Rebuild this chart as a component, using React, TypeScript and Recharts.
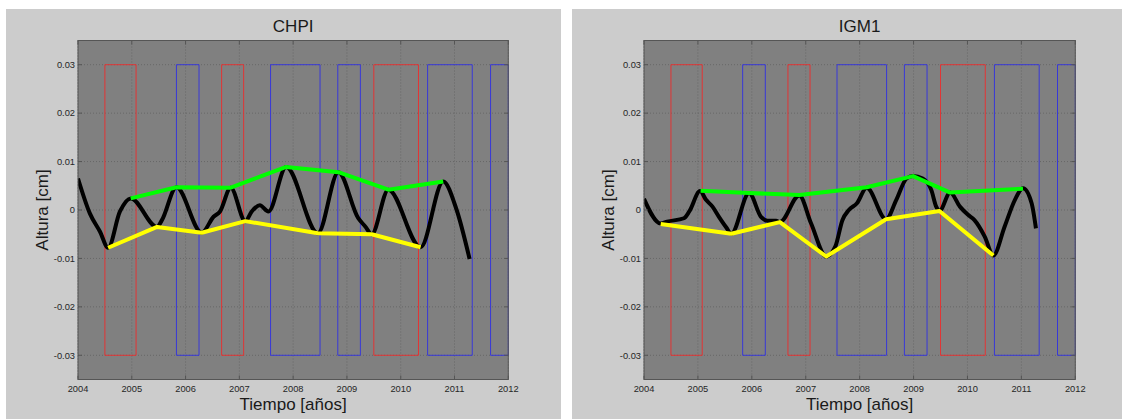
import React from 'react';
import { ComposedChart, Line, XAxis, YAxis, CartesianGrid, ReferenceArea } from 'recharts';

// Axis ticks
const YEAR_TICKS = [2004, 2005, 2006, 2007, 2008, 2009, 2010, 2011, 2012];
const ALT_TICKS = [-0.03, -0.02, -0.01, 0, 0.01, 0.02, 0.03];
const ALT_LABELS = ['-0.03', '-0.02', '-0.01', '0', '0.01', '0.02', '0.03'];
const YEAR_RANGE = [2004, 2012];
const ALT_RANGE = [-0.035, 0.035];

// ENSO episodes (start, end) in decimal years
const NINO_START = [2004.5, 2006.67, 2009.5];
const NINO_END = [2005.08, 2007.08, 2010.33];
const NINA_START = [2005.83, 2007.58, 2008.83, 2010.5, 2011.67];
const NINA_END = [2006.25, 2008.5, 2009.25, 2011.33, 2012];
const EPISODE_BAND = [-0.03, 0.03];

// CHPI: height series and its upper / lower envelopes
const CHPI_T = [2004.0, 2004.22, 2004.41, 2004.56, 2004.78, 2004.98, 2005.47, 2005.56, 2005.83, 2006.3, 2006.52, 2006.64, 2006.84, 2007.11, 2007.23, 2007.38, 2007.54, 2007.87, 2008.46, 2008.84, 2009.21, 2009.34, 2009.46, 2009.77, 2010.37, 2010.79, 2011.04, 2011.28];
const CHPI_H = [0.0065, -0.0007, -0.0045, -0.0078, -0.0003, 0.0024, -0.0035, -0.0021, 0.0047, -0.0047, -0.0014, -0.0003, 0.0046, -0.0023, -0.0003, 0.001, -0.0003, 0.0089, -0.0048, 0.0078, -0.0017, -0.0034, -0.005, 0.0042, -0.0077, 0.0059, 0.0, -0.0101];
const CHPI_MAX_T = [2004.98, 2005.83, 2006.84, 2007.87, 2008.84, 2009.77, 2010.79];
const CHPI_MAX = [0.0024, 0.0047, 0.0046, 0.0089, 0.0078, 0.0042, 0.0059];
const CHPI_MIN_T = [2004.56, 2005.47, 2006.3, 2007.11, 2008.46, 2009.46, 2010.37];
const CHPI_MIN = [-0.0078, -0.0035, -0.0047, -0.0023, -0.0048, -0.005, -0.0077];

// IGM1: height series and its upper / lower envelopes
const IGM1_T = [2004.0, 2004.31, 2004.43, 2004.74, 2004.84, 2005.04, 2005.15, 2005.27, 2005.39, 2005.52, 2005.62, 2005.95, 2006.17, 2006.29, 2006.45, 2006.52, 2006.88, 2007.1, 2007.38, 2007.55, 2007.68, 2007.8, 2007.95, 2008.13, 2008.49, 2008.68, 2008.87, 2008.99, 2009.17, 2009.33, 2009.42, 2009.48, 2009.68, 2009.86, 2010.01, 2010.13, 2010.32, 2010.48, 2010.69, 2010.88, 2011.03, 2011.19, 2011.27];
const IGM1_H = [0.0023, -0.0028, -0.0024, -0.0017, -0.0003, 0.0039, 0.0021, 0.0007, -0.0014, -0.0035, -0.0049, 0.0035, -0.0014, -0.0022, -0.0022, -0.0025, 0.003, -0.0028, -0.0096, -0.0075, -0.0021, 0.0, 0.0014, 0.0046, -0.0019, 0.0021, 0.0065, 0.007, 0.0065, 0.0041, 0.0007, -0.0002, 0.0036, 0.0007, -0.001, -0.0021, -0.0055, -0.0094, -0.0034, 0.0021, 0.0045, 0.0014, -0.0038];
const IGM1_MAX_T = [2005.05, 2005.95, 2006.88, 2008.13, 2008.99, 2009.68, 2011.03];
const IGM1_MAX = [0.004, 0.0035, 0.0031, 0.0047, 0.007, 0.0036, 0.0044];
const IGM1_MIN_T = [2004.31, 2005.62, 2006.52, 2007.38, 2008.49, 2009.48, 2010.48];
const IGM1_MIN = [-0.0029, -0.0049, -0.0025, -0.0096, -0.0019, -0.0002, -0.0094];

type Pt = { t: number; v: number };
const zip = (t: number[], v: number[]): Pt[] => t.map((x, i) => ({ t: x, v: v[i] }));

const FONT = '"Liberation Sans", Arial, Helvetica, sans-serif';
const FRAME = '#555555';
const TICK_TEXT = '#262626';
const RED = '#e23434';
const BLUE = '#3838d8';

const TICK_LEN = 4;
const TICK_FONT = 9.3;

const HEIGHT = 410;
const PLOT_LEFT = 72;
const PLOT_TOP = 31.5;
const XAXIS_H = 39.5;
const PLOT_H = HEIGHT - PLOT_TOP - XAXIS_H;

// Year tick: label below the axis, inward tick marks on the bottom and top frame edges
const makeBottomTick = () => (p: any) => (
  <g>
    <line x1={p.x} x2={p.x} y1={p.y} y2={p.y - TICK_LEN} stroke={FRAME} strokeWidth={1} />
    <line x1={p.x} x2={p.x} y1={p.y - PLOT_H} y2={p.y - PLOT_H + TICK_LEN} stroke={FRAME} strokeWidth={1} />
    <text x={p.x} y={p.y + 12.3} textAnchor="middle" fontSize={TICK_FONT} fill={TICK_TEXT}>
      {p.payload.value}
    </text>
  </g>
);

// Height tick: label left of the axis, inward tick marks on the left and right frame edges
const makeLeftTick = (plotW: number) => (p: any) => {
  const idx = ALT_TICKS.findIndex((v) => Math.abs(v - p.payload.value) < 1e-9);
  return (
    <g>
      <line x1={p.x} x2={p.x + TICK_LEN} y1={p.y} y2={p.y} stroke={FRAME} strokeWidth={1} />
      <line x1={p.x + plotW} x2={p.x + plotW - TICK_LEN} y1={p.y} y2={p.y} stroke={FRAME} strokeWidth={1} />
      <text x={p.x - 3} y={p.y + 3.3} textAnchor="end" fontSize={TICK_FONT} fill={TICK_TEXT}>
        {idx >= 0 ? ALT_LABELS[idx] : p.payload.value}
      </text>
    </g>
  );
};

type PanelProps = {
  title: string;
  left: number;
  width: number;
  rightPad: number;
  serie: Pt[];
  upper: Pt[];
  lower: Pt[];
};

function Panel({ title, left, width, rightPad, serie, upper, lower }: PanelProps) {
  const plotW = width - rightPad - PLOT_LEFT;
  const cx = PLOT_LEFT + plotW / 2;
  const cy = PLOT_TOP + PLOT_H / 2;
  const bottomTick = makeBottomTick();
  const leftTick = makeLeftTick(plotW);
  return (
    <div style={{ position: 'absolute', left, top: 9, width, height: HEIGHT, background: '#cccccc' }}>
      <ComposedChart width={width} height={HEIGHT} margin={{ top: PLOT_TOP, right: rightPad, bottom: 0, left: 0 }}>
        <CartesianGrid fill="#808080" fillOpacity={1} stroke="#676767" strokeDasharray="1 2" />
        <XAxis
          dataKey="t"
          type="number"
          domain={YEAR_RANGE}
          ticks={YEAR_TICKS}
          allowDataOverflow
          height={XAXIS_H}
          tickSize={0}
          tickMargin={0}
          tick={bottomTick}
          axisLine={false}
        />
        <YAxis
          type="number"
          domain={ALT_RANGE}
          ticks={ALT_TICKS}
          allowDataOverflow
          width={PLOT_LEFT}
          tickSize={0}
          tickMargin={0}
          tick={leftTick}
          axisLine={false}
        />
        {NINO_START.map((s, i) => (
          <ReferenceArea
            key={'nino' + i}
            x1={s}
            x2={NINO_END[i]}
            y1={EPISODE_BAND[0]}
            y2={EPISODE_BAND[1]}
            fill="none"
            stroke={RED}
            strokeWidth={1}
            ifOverflow="visible"
          />
        ))}
        {NINA_START.map((s, i) => (
          <ReferenceArea
            key={'nina' + i}
            x1={s}
            x2={NINA_END[i]}
            y1={EPISODE_BAND[0]}
            y2={EPISODE_BAND[1]}
            fill="none"
            stroke={BLUE}
            strokeWidth={1}
            ifOverflow="visible"
          />
        ))}
        <Line data={serie} dataKey="v" type="monotone" stroke="#000000" strokeWidth={4} dot={false} activeDot={false} isAnimationActive={false} strokeLinejoin="round" />
        <Line data={upper} dataKey="v" type="linear" stroke="#00ff00" strokeWidth={4} dot={false} activeDot={false} isAnimationActive={false} strokeLinejoin="round" />
        <Line data={lower} dataKey="v" type="linear" stroke="#ffff00" strokeWidth={4} dot={false} activeDot={false} isAnimationActive={false} strokeLinejoin="round" />
      </ComposedChart>
      <svg
        width={width}
        height={HEIGHT}
        style={{ position: 'absolute', left: 0, top: 0, pointerEvents: 'none' }}
      >
        {/* axes box */}
        <rect x={PLOT_LEFT} y={PLOT_TOP} width={plotW} height={PLOT_H} fill="none" stroke={FRAME} strokeWidth={1} />
        <text x={cx} y={22.7} textAnchor="middle" fontSize={17} fill="#1a1a1a">
          {title}
        </text>
        <text x={cx} y={401} textAnchor="middle" fontSize={17} fill="#1a1a1a">
          Tiempo [años]
        </text>
        <text x={41.5} y={cy} textAnchor="middle" fontSize={17} fill="#1a1a1a" transform={`rotate(-90, 41.5, ${cy})`}>
          Altura [cm]
        </text>
      </svg>
    </div>
  );
}

export default function App() {
  return (
    <div
      style={{
        position: 'absolute',
        left: 0,
        top: 0,
        width: 1122,
        height: 419,
        background: '#ffffff',
        overflow: 'hidden',
        fontFamily: FONT,
      }}
    >
      <Panel
        title="CHPI"
        left={6}
        width={555}
        rightPad={52.7}
        serie={zip(CHPI_T, CHPI_H)}
        upper={zip(CHPI_MAX_T, CHPI_MAX)}
        lower={zip(CHPI_MIN_T, CHPI_MIN)}
      />
      <Panel
        title="IGM1"
        left={572}
        width={550}
        rightPad={46.7}
        serie={zip(IGM1_T, IGM1_H)}
        upper={zip(IGM1_MAX_T, IGM1_MAX)}
        lower={zip(IGM1_MIN_T, IGM1_MIN)}
      />
    </div>
  );
}
